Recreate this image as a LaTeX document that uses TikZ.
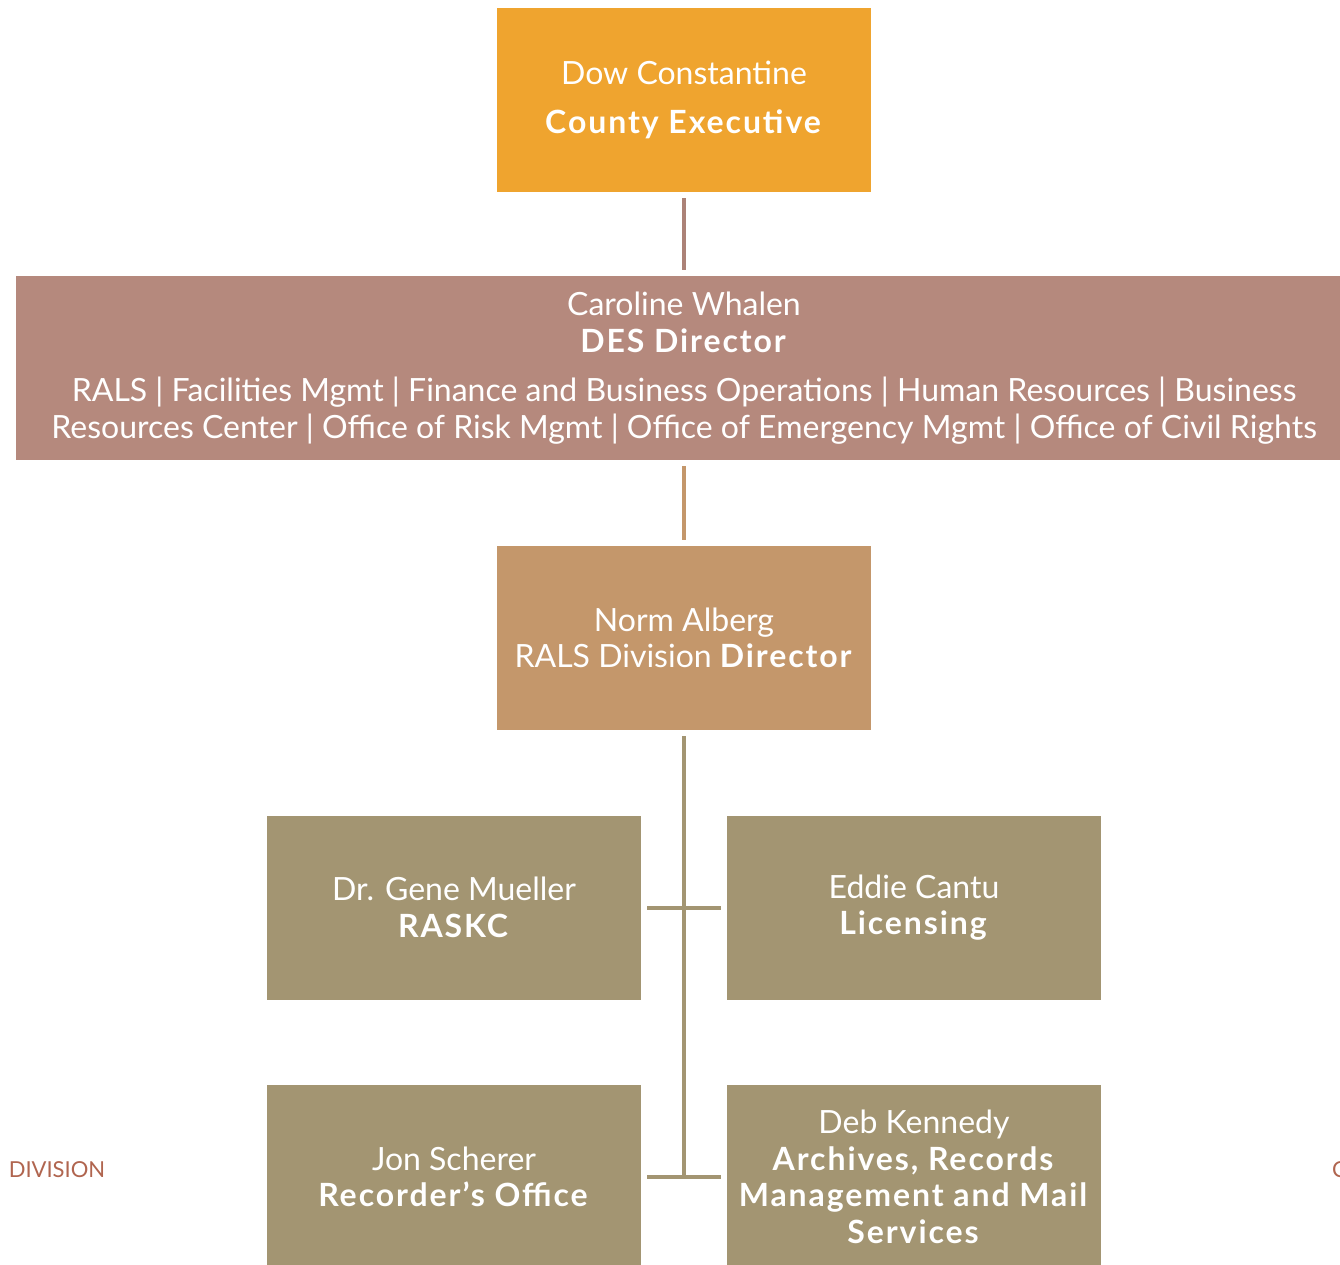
\documentclass[tikz,border=0pt]{standalone}
\usepackage{fontspec}
\setmainfont{Lato}[BoldFeatures={LetterSpace=6}]
\usetikzlibrary{positioning}
\definecolor{execorange}{HTML}{EFA42F}
\definecolor{desrose}{HTML}{B5897D}
\definecolor{ralstan}{HTML}{C4976B}
\definecolor{unitolive}{HTML}{A39572}
\definecolor{pagerust}{HTML}{B0654F}
\tikzset{orgbox/.style={rectangle,minimum width=374pt,minimum height=184pt,inner sep=0pt,
  text=white,align=center,font=\fontsize{32}{36.5}\selectfont}}
\tikzset{link/.style={line width=4pt,shorten <=6pt,shorten >=6pt}}

\begin{document}
\begin{tikzpicture}[x=1pt,y=-1pt]
\useasboundingbox (0,0) rectangle (1340,1264);
% \draw[help lines] (0,0) grid (1340,1264);
\node (exec) [orgbox,fill=execorange] at (684,100) {Dow Constantine\\[13pt]\textbf{County Executive}};
\node (des) [orgbox,fill=desrose,minimum width=1336pt] at (684,368)
  {Caroline Whalen\\\textbf{DES Director}\\[13pt]
   RALS | Facilities Mgmt | Finance and Business Operations | Human Resources | Business\\
   Resources Center | Office of Risk Mgmt | Office of Emergency Mgmt | Office of Civil Rights};
\node (rals) [orgbox,fill=ralstan] at (684,638) {Norm Alberg\\RALS Division \textbf{Director}};
%
\node (raskc) [orgbox,fill=unitolive] at (454,907.5) {Dr. Gene Mueller\\\textbf{RASKC}};
\node (lic) [orgbox,fill=unitolive] at (914,907.5) {Eddie Cantu\\\textbf{Licensing}};
\node (rec) [orgbox,fill=unitolive] at (454,1177) {Jon Scherer\\\textbf{Recorder’s Office}};
\node (arch) [orgbox,fill=unitolive] at (914,1177)
  {Deb Kennedy\\\textbf{Archives, Records}\\\textbf{Management and Mail}\\\textbf{Services}};
%
\node (divtag) [text=pagerust,font=\fontsize{22}{26}\selectfont] at (57,1170) {DIVISION};
\node (nexttag) [text=pagerust,font=\fontsize{22}{26}\selectfont,anchor=west,inner sep=0pt] at (1332,1170) {C};
%
\coordinate (trunkend) at (rals.south |- rec.east);
\path[link,draw=desrose!95!black] (exec) edge (des);
\path[link,draw=ralstan] (des) edge (rals);
\path[link,draw=unitolive,shorten >=-2pt] (rals) edge (trunkend);
\path[link,draw=unitolive] (raskc) edge (lic);
\path[link,draw=unitolive] (rec) edge (arch);
\end{tikzpicture}
\end{document}
